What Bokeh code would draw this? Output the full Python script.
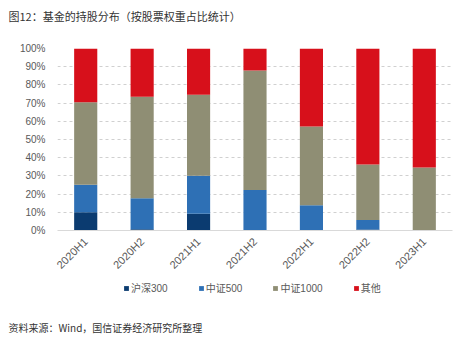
import math
from bokeh.plotting import figure
from bokeh.layouts import column
from bokeh.models import (ColumnDataSource, Range1d, FixedTicker, NumeralTickFormatter,
                          Legend, LegendItem)
from bokeh.core.properties import value
from bokeh.embed import file_html
from bokeh.resources import INLINE

# ---- data ----
periods = ["2020H1", "2020H2", "2021H1", "2021H2", "2022H1", "2022H2", "2023H1"]
hs300 = [10.0, 0.7, 9.2, 0.0, 0.0, 0.5, 0.0]
zz500 = [15.2, 17.0, 20.9, 22.3, 13.9, 5.3, 0.0]
zz1000 = [45.3, 55.8, 44.5, 65.6, 43.2, 30.4, 34.6]
others = [29.5, 26.5, 25.4, 12.1, 42.9, 63.8, 65.4]
series_names = ["沪深300", "中证500", "中证1000", "其他"]
series_keys = ["hs300", "zz500", "zz1000", "others"]
colors = ["#0b3b70", "#2e70b5", "#8f8e74", "#d7101b"]
title_text = "图12：基金的持股分布（按股票权重占比统计）"
source_text = "资料来源：Wind，国信证券经济研究所整理"

W = 474
FONT_NUM = "Liberation Sans, Noto Sans CJK SC"
FONT_CJK = "Noto Sans CJK SC"
GREY_TXT = "#595959"

def blank(h):
    f = figure(width=W, height=h, x_range=Range1d(0, W), y_range=Range1d(0, h),
               output_backend="svg", toolbar_location=None, min_border=0,
               x_axis_location=None, y_axis_location=None, frame_align=False)
    f.grid.visible = False
    f.outline_line_color = None
    return f

def rule(h, color):
    f = figure(width=464, height=h, x_range=Range1d(0, 1), y_range=Range1d(0, 1),
               output_backend="svg", toolbar_location=None, min_border=0,
               x_axis_location=None, y_axis_location=None, frame_align=False,
               background_fill_color=color, border_fill_color=color,
               margin=(0, 0, 0, 8))
    f.grid.visible = False
    f.outline_line_color = None
    return f

# ---- header ----
HH = 32
hdr = blank(HH)
hdr.text(x=[8], y=[HH - 15], text=[title_text], text_font=value(FONT_CJK), text_font_size="11px",
         text_color="#333333", text_baseline="middle", text_align="left")
rule1 = rule(2, "#b4b4b4")

# ---- main chart ----
src = ColumnDataSource(dict(periods=periods,
                            hs300=[v / 100 for v in hs300],
                            zz500=[v / 100 for v in zz500],
                            zz1000=[v / 100 for v in zz1000],
                            others=[v / 100 for v in others]))

MH = 244
p = figure(width=W, height=MH, x_range=periods, y_range=Range1d(0, 1),
           output_backend="svg", toolbar_location=None, frame_align=False,
           min_border_top=14, min_border_left=57, min_border_right=22, min_border_bottom=45)
p.outline_line_color = None
rs = p.vbar_stack(series_keys, x="periods", width=0.41, source=src,
                  fill_color=colors, line_color=None)

p.yaxis.ticker = FixedTicker(ticks=[i / 10 for i in range(11)])
p.yaxis.formatter = NumeralTickFormatter(format="0%")
p.yaxis.axis_line_color = None
p.yaxis.major_tick_line_color = None
p.yaxis.minor_tick_line_color = None
p.yaxis.major_label_text_font = FONT_NUM
p.yaxis.major_label_text_font_size = "10px"
p.yaxis.major_label_text_color = GREY_TXT
p.yaxis.major_label_standoff = 6

p.xaxis.axis_line_color = "#d9d9d9"
p.xaxis.major_tick_line_color = None
p.xaxis.minor_tick_line_color = None
p.xaxis.major_label_orientation = math.pi / 4
p.xaxis.major_label_text_font = FONT_NUM
p.xaxis.major_label_text_font_size = "11px"
p.xaxis.major_label_text_color = GREY_TXT
p.xaxis.major_label_standoff = 3

p.xgrid.grid_line_color = None
p.ygrid.grid_line_color = "#d0d0d0"
p.ygrid.grid_line_dash = "3 3"

# ---- legend strip ----
LH = 36
leg = blank(LH)
leg_renderers = [leg.vbar(x=[-50], top=[0], bottom=[0], width=0, fill_color=c, line_color=None)
                 for c in colors]
legend = Legend(items=[LegendItem(label=n, renderers=[r]) for n, r in zip(series_names, leg_renderers)],
                orientation="horizontal", location=(123, 19),
                glyph_width=6, glyph_height=6, label_height=12, label_standoff=2, spacing=30,
                padding=2, margin=0, border_line_color=None, background_fill_alpha=0,
                label_text_font=FONT_NUM, label_text_font_size="10px",
                label_text_color=GREY_TXT)
leg.add_layout(legend, "center")

rule2 = rule(1, "#d0d0d0")

# ---- footer ----
FH = 338 - HH - 2 - MH - LH - 1
ftr = blank(FH)
ftr.text(x=[8], y=[FH - 12], text=[source_text], text_font=value(FONT_CJK), text_font_size="10px",
         text_color="#333333", text_baseline="middle", text_align="left")

layout = column(hdr, rule1, p, leg, rule2, ftr, spacing=0)
open("out.html", "w").write(file_html(layout, INLINE))
